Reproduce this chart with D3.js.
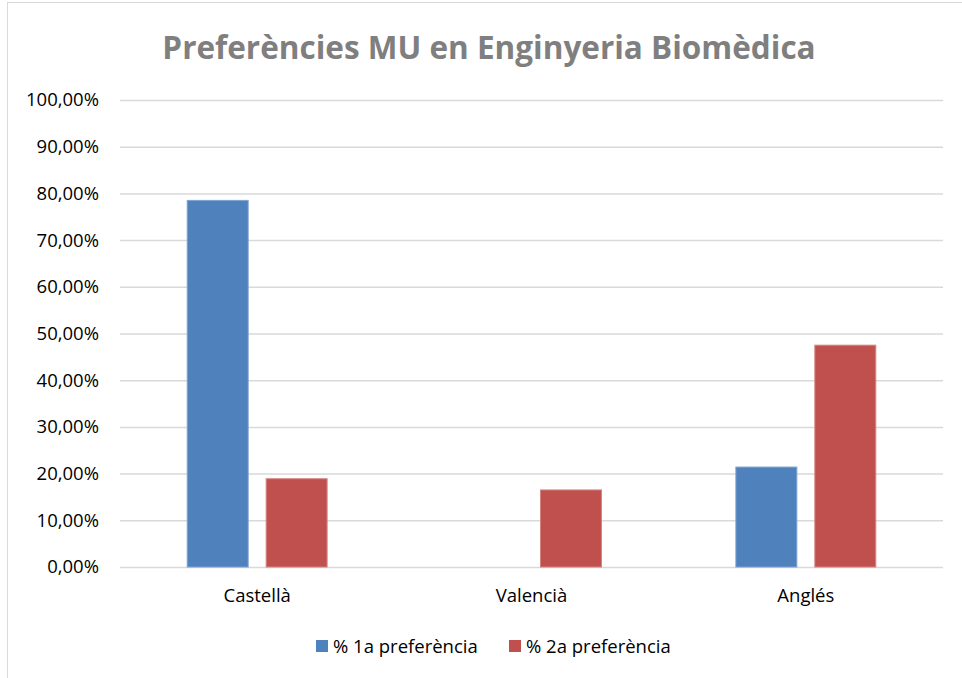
<!DOCTYPE html>
<html>
<head>
<meta charset="utf-8">
<script src="https://cdn.jsdelivr.net/npm/d3@7"></script>
<style>
  body { margin: 0; background: #fff; }
  text { font-family: "Open Sans", "Noto Sans", sans-serif; }
</style>
</head>
<body>
<div id="chart"></div>
<script>
var categories = ["Castellà", "Valencià", "Anglés"];
var seriesNames = ["% 1a preferència", "% 2a preferència"];
var primera = [0.785, 0, 0.214];
var segona = [0.189, 0.165, 0.475];
var yTicks = [0, 0.1, 0.2, 0.3, 0.4, 0.5, 0.6, 0.7, 0.8, 0.9, 1.0];
var colors = ["#4f81bd", "#c0504d"];
var strokes = ["#7fa3d1", "#d58482"];

var width = 962, height = 678,
    margin = {top: 100, right: 19, bottom: 111, left: 120};

var svg = d3.select("#chart").append("svg")
    .attr("width", width)
    .attr("height", height);

// chart area frame
svg.append("rect")
    .attr("x", 7.5)
    .attr("y", 2.5)
    .attr("width", width)
    .attr("height", height)
    .style("fill", "none")
    .style("stroke", "#d9d9d9")
    .style("stroke-width", "1px");

svg.append("text")
    .attr("x", 489)
    .attr("y", 59)
    .attr("text-anchor", "middle")
    .style("font-size", "31.5px")
    .style("font-weight", "bold")
    .style("fill", "#7f7f7f")
    .text("Preferències MU en Enginyeria Biomèdica");

var g = svg.append("g")
    .attr("transform", "translate(" + margin.left + "," + margin.top + ")");

var w = width - margin.left - margin.right,
    h = height - margin.top - margin.bottom;

var y = d3.scaleLinear().domain([0, 1]).range([h, 0]);

var x0 = d3.scaleBand()
    .domain(categories)
    .range([0, w])
    .paddingInner(0.49)
    .paddingOuter(0.245);

var x1 = d3.scaleBand()
    .domain(d3.range(seriesNames.length))
    .range([0, x0.bandwidth()])
    .paddingInner(0.228);

var fmt = function(d) { return d3.format(".2f")(d * 100).replace(".", ",") + "%"; };

var yAxis = g.append("g")
    .call(d3.axisLeft(y).tickValues(yTicks).tickSize(-w).tickFormat(fmt));
yAxis.select(".domain").remove();
yAxis.selectAll(".tick line")
    .style("stroke", "#d9d9d9")
    .style("stroke-width", "1.5px");
yAxis.selectAll(".tick text")
    .attr("x", -21)
    .style("font-size", "18.5px")
    .style("fill", "#000");

var rows = categories.map(function(c, i) {
    return [{s: 0, v: primera[i]}, {s: 1, v: segona[i]}];
});

var group = g.selectAll(".cat")
    .data(rows)
    .enter().append("g")
    .attr("class", "cat")
    .attr("transform", function(d, i) { return "translate(" + x0(categories[i]) + ",0)"; });

group.selectAll("rect")
    .data(function(d) { return d.filter(function(e) { return e.v > 0; }); })
    .enter().append("rect")
    .attr("x", function(d) { return x1(d.s); })
    .attr("y", function(d) { return y(d.v); })
    .attr("width", x1.bandwidth())
    .attr("height", function(d) { return h - y(d.v); })
    .style("fill", function(d) { return colors[d.s]; })
    .style("stroke", function(d) { return strokes[d.s]; })
    .style("stroke-width", "1px");

g.selectAll(".cat-label")
    .data(categories)
    .enter().append("text")
    .attr("class", "cat-label")
    .attr("x", function(d) { return x0(d) + x0.bandwidth() / 2; })
    .attr("y", h + 35)
    .attr("text-anchor", "middle")
    .style("font-size", "18.5px")
    .style("fill", "#000")
    .text(function(d) { return d; });

var legendX = [316, 509];
var legend = svg.selectAll(".legend")
    .data(seriesNames)
    .enter().append("g")
    .attr("class", "legend")
    .attr("transform", function(d, i) { return "translate(" + legendX[i] + ",640)"; });

legend.append("rect")
    .attr("width", 12)
    .attr("height", 12)
    .style("fill", function(d, i) { return colors[i]; });

legend.append("text")
    .attr("x", 17)
    .attr("y", 12.5)
    .style("font-size", "18.5px")
    .style("fill", "#000")
    .text(function(d) { return d; });
</script>
</body>
</html>
